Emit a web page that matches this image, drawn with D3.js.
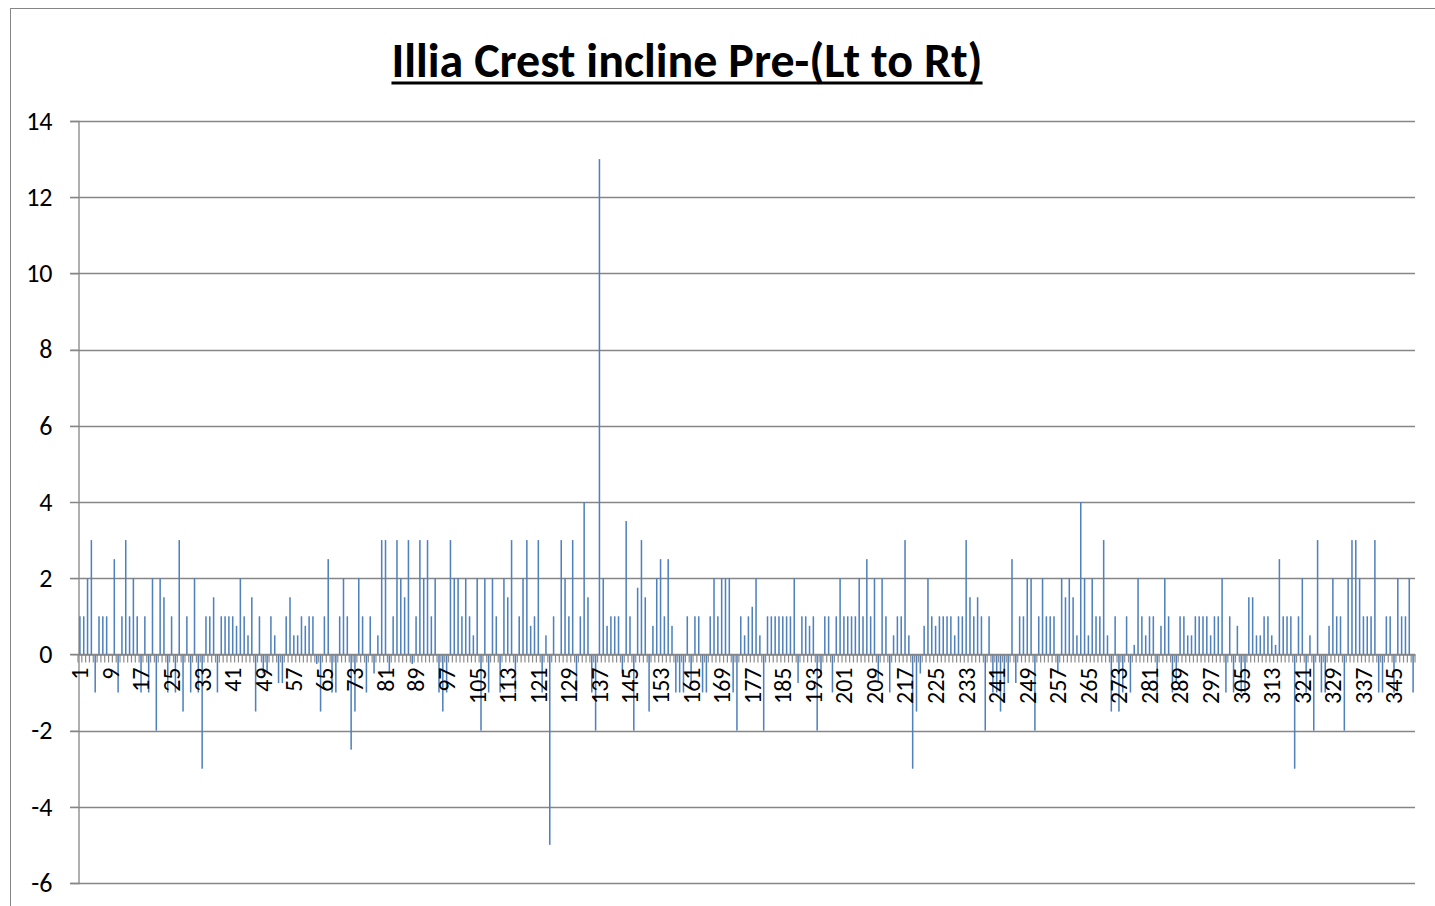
<!DOCTYPE html>
<html>
<head>
<meta charset="utf-8">
<script src="https://cdn.jsdelivr.net/npm/d3@7"></script>
<style>
  body { margin: 0; background: #fff; }
  svg { display: block; }
  text { font-family: Carlito, Lato, "Open Sans", sans-serif; fill: #000; }
</style>
</head>
<body>
<div id="chart"></div>
<script>
// chart title
var title = "Illia Crest incline Pre-(Lt to Rt)";

// y axis tick labels
var yTicks = [-6, -4, -2, 0, 2, 4, 6, 8, 10, 12, 14];

// incline value per reading (readings 1..350)
var values = [
  1, 1, 2, 3, -1, 1, 1, 1, 0, 2.5,
  -1, 1, 3, 1, 2, 1, -1, 1, -1, 2,
  -2, 2, 1.5, -1, 1, -1, 3, -1.5, 1, -1,
  2, -1, -3, 1, 1, 1.5, -1, 1, 1, 1,
  1, 0.75, 2, 1, 0.5, 1.5, -1.5, 1, -0.5, -0.5,
  1, 0.5, -0.75, -0.75, 1, 1.5, 0.5, 0.5, 1, 0.75,
  1, 1, -0.25, -1.5, 1, 2.5, -1, -1, 1, 2,
  1, -2.5, -1.5, 2, 1, -1, 1, -0.5, 0.5, 3,
  3, -0.5, 1, 3, 2, 1.5, 3, -0.25, 1, 3,
  2, 3, 1, 2, -1, -1.5, -1, 3, 2, 2,
  1, 2, 1, 0.5, 2, -2, 2, -1, 2, 1,
  -1, 2, 1.5, 3, -1, 1, 2, 3, 0.75, 1,
  3, -1, 0.5, -5, 1, 0, 3, 2, 1, 3,
  -1, 1, 4, 1.5, -1, -2, 13, 2, 0.75, 1,
  1, 1, -0.5, 3.5, 1, -2, 1.75, 3, 1.5, -1.5,
  0.75, 2, 2.5, 1, 2.5, 0.75, -1, -1, -1, 1,
  -0.75, 1, 1, -1, -1, 1, 2, 1, 2, 2,
  2, -1, -2, 1, 0.5, 1, 1.25, 2, 0.5, -2,
  1, 1, 1, 1, 1, 1, 1, 2, -0.75, 1,
  1, 0.75, 1, -2, -0.5, 1, 1, -1, 1, 2,
  1, 1, 1, 1, 2, 1, 2.5, 1, 2, -0.75,
  2, 1, -1, 0.5, 1, 1, 3, 0.5, -3, -1.5,
  -0.5, 0.75, 2, 1, 0.75, 1, 1, 1, 1, 0.5,
  1, 1, 3, 1.5, 1, 1.5, 1, -2, 1, -1,
  -1, -1.5, -1, -0.75, 2.5, -0.75, 1, 1, 2, 2,
  -2, 1, 2, 1, 1, 1, -0.5, 2, 1.5, 2,
  1.5, 0.5, 4, 2, 0.5, 2, 1, 1, 3, 0.5,
  -1.5, 1, -1.5, -1, 1, -1, 0.25, 2, 1, 0.5,
  1, 1, -1, 0.75, 2, 1, -1, -0.75, 1, 1,
  0.5, 0.5, 1, 1, 1, 1, 0.5, 1, 1, 2,
  -1, 1, -1, 0.75, -1, -1, 1.5, 1.5, 0.5, 0.5,
  1, 1, 0.5, 0.25, 2.5, 1, 1, 1, -3, 1,
  2, -1, 0.5, -2, 3, -1, -1, 0.75, 2, 1,
  1, -2, 2, 3, 3, 2, 1, 1, 1, 3,
  -1, -1, 1, 1, -1, 2, 1, 1, 2, -1
];

// category labels are the reading numbers
var categories = values.map(function(d, i) { return String(i + 1); });
// only every 8th reading gets a label
var xTickLabels = categories.filter(function(d, i) { return i % 8 === 0; });

(function() {
    var width = 1435, height = 906;
    var plotLeft = 78, plotRight = 1415, plotTop = 121, plotBottom = 883;

    var svg = d3.select("#chart").append("svg")
        .attr("width", width)
        .attr("height", height);

    // chart border
    svg.append("rect")
        .attr("x", 10.5).attr("y", 8.5)
        .attr("width", 1500).attr("height", 1000)
        .attr("fill", "none")
        .attr("stroke", "#868686")
        .attr("stroke-width", 1);

    var x = d3.scaleBand()
        .domain(categories)
        .range([plotLeft, plotRight])
        .paddingInner(0.6)
        .paddingOuter(0.3);

    var y = d3.scaleLinear()
        .domain([-6, 14])
        .range([plotBottom, plotTop]);

    // horizontal gridlines
    svg.append("g")
        .selectAll("line")
        .data(yTicks)
        .enter().append("line")
        .attr("x1", plotLeft - 8)
        .attr("x2", plotRight)
        .attr("y1", function(d) { return Math.round(y(d)) + 0.5; })
        .attr("y2", function(d) { return Math.round(y(d)) + 0.5; })
        .attr("stroke", "#868686")
        .attr("stroke-width", 1.3);

    // y axis, plain hyphen for negatives like the original
    var yAxis = svg.append("g")
        .attr("transform", "translate(" + (plotLeft + 0.5) + ",0)")
        .call(d3.axisLeft(y).tickValues(yTicks).tickSize(8).tickPadding(18)
            .tickFormat(function(d) { return String(d); }));
    yAxis.select(".domain").attr("stroke", "#868686").attr("stroke-width", 1.3);
    yAxis.selectAll(".tick line").attr("stroke", "#868686");
    yAxis.selectAll(".tick text")
        .style("font-size", "26px")
        .style("font-family", "Carlito, Lato, sans-serif")
        .attr("fill", "#000");

    var y0 = Math.round(y(0)) + 0.5;

    // bars
    svg.append("g")
        .selectAll("rect")
        .data(values)
        .enter().append("rect")
        .attr("x", function(d, i) { return x(categories[i]); })
        .attr("width", x.bandwidth())
        .attr("y", function(d) { return d >= 0 ? y(d) : y0; })
        .attr("height", function(d) { return Math.abs(y(d) - y0); })
        .attr("fill", "#4f81bd");

    // category tick marks, between categories
    var step = x.step();
    svg.append("g")
        .selectAll("line")
        .data(categories.concat(["end"]))
        .enter().append("line")
        .attr("x1", function(d, i) { return plotLeft + i * step; })
        .attr("x2", function(d, i) { return plotLeft + i * step; })
        .attr("y1", y0)
        .attr("y2", y0 + 8)
        .attr("stroke", "#8c8c8c")
        .attr("stroke-width", 1.2);

    // x axis line at zero, with rotated labels
    var xAxis = svg.append("g")
        .attr("transform", "translate(0," + y0 + ")")
        .call(d3.axisBottom(x).tickValues(xTickLabels).tickSize(0).tickPadding(0));
    xAxis.select(".domain").attr("stroke", "#868686").attr("stroke-width", 1.3);
    xAxis.selectAll(".tick text")
        .attr("transform", "rotate(-90)")
        .attr("x", -13)
        .attr("y", 0)
        .attr("dy", "0.35em")
        .style("text-anchor", "end")
        .style("font-size", "24px")
        .style("font-family", "Carlito, Lato, sans-serif")
        .attr("fill", "#000");

    // title, underline drawn as a solid line under the text
    var titleText = svg.append("text")
        .attr("x", 687)
        .attr("y", 77)
        .attr("text-anchor", "middle")
        .style("font-size", "48px")
        .style("font-weight", "bold")
        .text(title);
    var tw = titleText.node().getComputedTextLength();
    svg.append("line")
        .attr("x1", 687 - tw / 2)
        .attr("x2", 687 + tw / 2)
        .attr("y1", 83)
        .attr("y2", 83)
        .attr("stroke", "#000")
        .attr("stroke-width", 3);
})();
</script>
</body>
</html>
